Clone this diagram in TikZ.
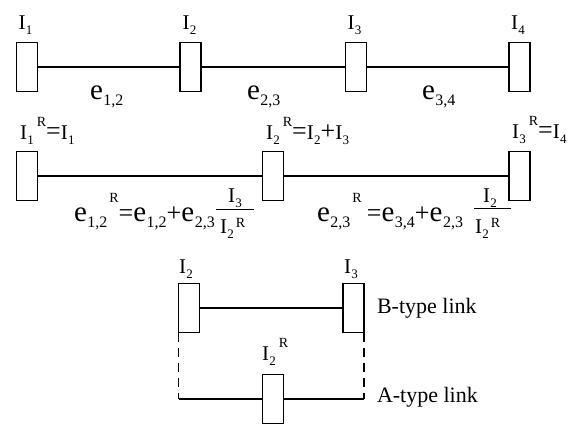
\documentclass[tikz,border=0pt]{standalone}
\usepackage{fontspec}
\setmainfont{Liberation Serif}
\newfontfamily\tnr{Liberation Serif}
\newcommand\Isub[1]{I\kern0.3pt\raisebox{-5pt}{\fontsize{13}{13}\selectfont #1}}
\newcommand\Rsup{\kern3pt\raisebox{13pt}{\fontsize{14}{14}\selectfont R}}
\newcommand\Rden{\kern2pt\raisebox{6pt}{\fontsize{14}{14}\selectfont R}}
\newcommand\Esub[1]{{\fontsize{29}{29}\selectfont e}\kern0.5pt\raisebox{-6pt}{\fontsize{16}{16}\selectfont #1}}
\newcommand\Rsupe{\kern2pt\raisebox{19pt}{\fontsize{14}{14}\selectfont R}}
\newcommand\Op[1]{{\fontsize{26}{26}\selectfont #1}}
\begin{document}
\begin{tikzpicture}[x=1pt,y=-1pt,
  every node/.style={inner sep=0pt,outer sep=0pt,font=\tnr\fontsize{21}{24}\selectfont},
  box/.style={draw,line width=1.8pt,fill=white,minimum width=21pt,minimum height=49pt},
  conn/.style={line width=1.8pt},
  dconn/.style={line width=1.4pt,dash pattern=on 9pt off 6pt},
  fbar/.style={line width=1pt},
  linktext/.style={anchor=base west,font=\tnr\fontsize{22}{24}\selectfont}]
\useasboundingbox (0,0) rectangle (578,424);
% row 1
\node[box] (a1) at (27,67) {};
\node[box] (a2) at (190.5,67) {};
\node[box] (a3) at (356,67) {};
\node[box] (a4) at (519.5,67) {};
\draw[conn] (a1) -- (a2);
\draw[conn] (a2) -- (a3);
\draw[conn] (a3) -- (a4);
\node[anchor=base west] (la1) at (18.5,29) {\Isub{1}};
\node[anchor=base west] (la2) at (182.5,29) {\Isub{2}};
\node[anchor=base west] (la3) at (347.5,29) {\Isub{3}};
\node[anchor=base west] (la4) at (511,29) {\Isub{4}};
\node[anchor=base west] (e12) at (90,99) {\Esub{1,2}};
\node[anchor=base west] (e23) at (247,99) {\Esub{2,3}};
\node[anchor=base west] (e34) at (422,99) {\Esub{3,4}};
% row 2
\node[box] (b1) at (27,176) {};
\node[box] (b2) at (273,176) {};
\node[box] (b3) at (519.5,176) {};
\draw[conn] (b1) -- (b2);
\draw[conn] (b2) -- (b3);
\node[anchor=base west] (lb1) at (20,139) {\Isub{1}\Rsup\Op{=}\Isub{1}};
\node[anchor=base west] (lb2) at (266,139) {\Isub{2}\Rsup\Op{=}\Isub{2}\Op{+}\Isub{3}};
\node[anchor=base west] (lb3) at (512,138) {\Isub{3}\Rsup\Op{=}\Isub{4}};
\node[anchor=base west] (f1) at (74,221) {\Esub{1,2}\Rsupe\Op{=}\Esub{1,2}\Op{+}\Esub{2,3}};
\node[anchor=base] (n1) at (235,202) {\Isub{3}};
\node[anchor=base west] (d1) at (220,233) {\Isub{2}\Rden};
\draw[fbar] (216,209) -- (254,209);
\node[anchor=base west] (f2) at (317,221) {\Esub{2,3}\Rsupe\ \Op{=}\Esub{3,4}\Op{+}\Esub{2,3}};
\node[anchor=base] (n2) at (490,202) {\Isub{2}};
\node[anchor=base west] (d2) at (475,233) {\Isub{2}\Rden};
\draw[fbar] (474,208) -- (511,208);
% row 3
\node[box] (c1) at (189,308) {};
\node[box] (c2) at (353.5,308) {};
\node[box] (m) at (273,399) {};
\draw[conn] (c1) -- (c2);
\coordinate (cl) at (178.5,399);
\coordinate (cr) at (364,399);
\draw[dconn] (c1.south west) -- (cl);
\draw[dconn] (c2.south east) -- (cr);
\draw[conn] (cl) -- (m);
\draw[conn] (m) -- (cr);
\node[anchor=base west] (lc1) at (179,273) {\Isub{2}};
\node[anchor=base west] (lc2) at (344,273) {\Isub{3}};
\node[anchor=base west] (lm) at (262,360) {\Isub{2}\Rsup};
\node[linktext] (tb) at (377,313) {B-type link};
\node[linktext] (ta) at (377,402) {A-type link};
\end{tikzpicture}
\end{document}
